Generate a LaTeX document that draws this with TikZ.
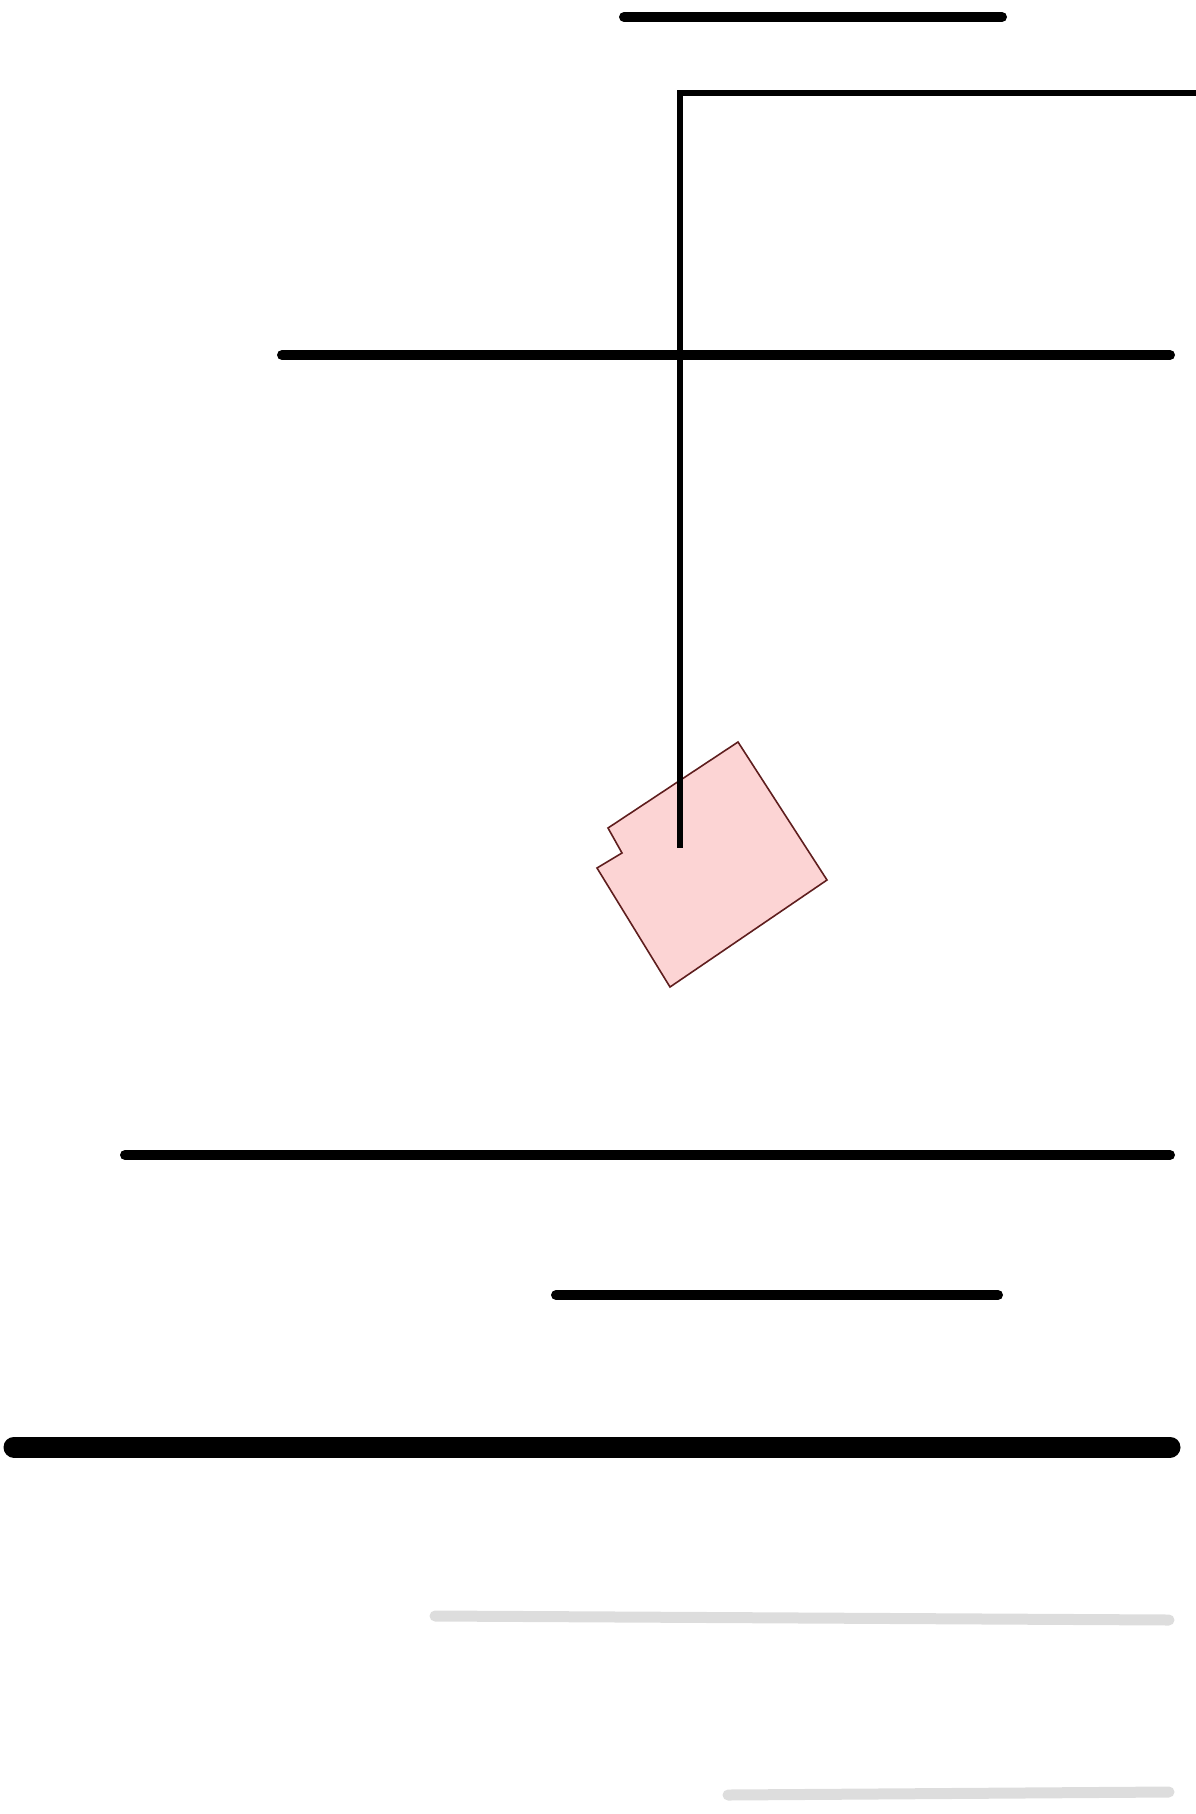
\documentclass[tikz,border=0pt]{standalone}
\usepackage{tikz}

\definecolor{blockpink}{RGB}{252,212,212}
\definecolor{blockedge}{RGB}{95,30,30}
\definecolor{faintgray}{RGB}{221,221,221}

\begin{document}
\begin{tikzpicture}[
    x=1pt, y=-1pt,
    bar/.style={line width=10pt, line cap=round},
    heavybar/.style={line width=21pt, line cap=round},
    fadedbar/.style={line width=11pt, line cap=round, draw=faintgray},
    rope/.style={line width=5.5pt},
    block/.style={fill=blockpink, draw=blockedge, line width=1.6pt, line join=miter}
]
\useasboundingbox (0,0) rectangle (1195,1814);

% shelves
\draw[bar] (624,17) -- (1002,17);
\draw[bar] (282,355) -- (1170,355);
\draw[bar] (125,1155) -- (1170,1155);
\draw[bar] (556,1295) -- (998,1295);
\draw[heavybar] (14,1447) -- (1170,1447);
\draw[fadedbar] (435,1616) -- (1169,1620);
\draw[fadedbar] (728,1795) -- (1169,1792);

% hanging block
\draw[block] (738,742) -- (827,880) -- (670,987) -- (597,868)
    -- (622,853) -- (608,828) -- cycle;

% rope
\coordinate (corner) at (680,93);
\coordinate (hook) at (680,848);
\draw[rope] (1200,93) -- (corner) -- (hook);

\end{tikzpicture}
\end{document}
